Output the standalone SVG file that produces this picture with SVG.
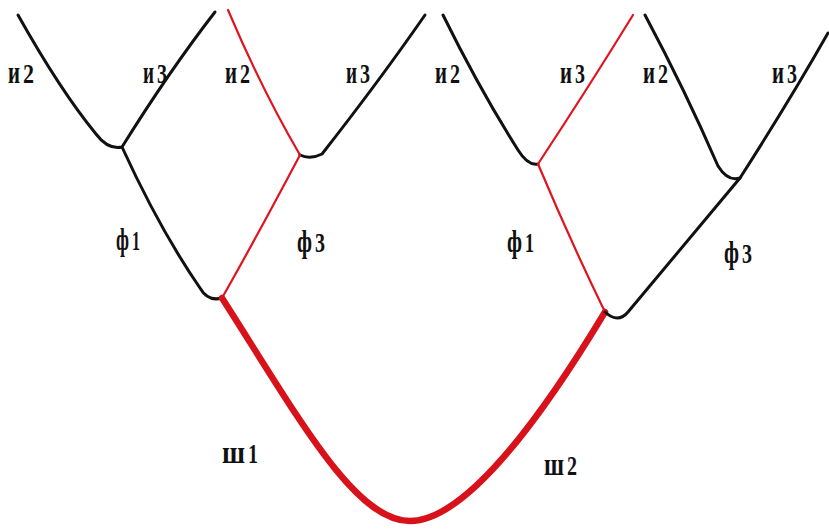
<svg xmlns="http://www.w3.org/2000/svg" width="829" height="529" viewBox="0 0 829 529">
<style>
.k{fill:none;stroke:#111;stroke-width:3;stroke-linecap:round;stroke-linejoin:round}
.r{fill:none;stroke:#e0141e;stroke-width:2.2;stroke-linecap:round;stroke-linejoin:round}
.R{fill:none;stroke:#d8121a;stroke-width:6.5;stroke-linecap:round;stroke-linejoin:round}
text{font-family:"Liberation Serif","Times New Roman",serif;font-weight:bold;fill:#111;font-size:27px}
.l{font-size:31px}
</style>
<rect width="829" height="529" fill="#fff"/>
<g id="connectors">
<path class="k" d="M18,15 Q60,90 96,134 Q108,150 122,147 Q170,70 215,12"/>
<path class="k" d="M122,147 Q160,230 200,288 Q208,302 222,298"/>
<path class="r" d="M228,10 Q262,90 300,155"/>
<path class="k" d="M300,155 Q310,160 322,154 Q380,80 425,15"/>
<path class="r" d="M300,155 Q255,240 222,298"/>
<path class="R" d="M222,298 C300,420 355,521 410,521 C465,521 540,420 605,312"/>
<path class="k" d="M443,15 Q480,90 518,150 Q528,166 538,164"/>
<path class="r" d="M538,164 Q590,85 633,15"/>
<path class="r" d="M538,164 Q570,240 605,312"/>
<path class="k" d="M645,15 Q685,90 718,166 Q728,182 740,178 Q790,100 828,33"/>
<path class="k" d="M740,178 Q680,250 628,312 Q618,324 605,312"/>
</g>
<g id="labels">
<g id="n1"><text class="l" x="8" y="83" textLength="12" lengthAdjust="spacingAndGlyphs">и</text><text x="23" y="83" textLength="11" lengthAdjust="spacingAndGlyphs">2</text></g>
<g id="n2"><text class="l" x="143" y="83" textLength="11" lengthAdjust="spacingAndGlyphs">и</text><text x="157" y="83" textLength="10" lengthAdjust="spacingAndGlyphs">3</text></g>
<g id="n3"><text class="l" x="225" y="83" textLength="12" lengthAdjust="spacingAndGlyphs">и</text><text x="240" y="83" textLength="10" lengthAdjust="spacingAndGlyphs">2</text></g>
<g id="n4"><text class="l" x="346" y="83" textLength="11" lengthAdjust="spacingAndGlyphs">и</text><text x="360" y="83" textLength="10" lengthAdjust="spacingAndGlyphs">3</text></g>
<g id="n5"><text class="l" x="435" y="83" textLength="12" lengthAdjust="spacingAndGlyphs">и</text><text x="450" y="83" textLength="10" lengthAdjust="spacingAndGlyphs">2</text></g>
<g id="n6"><text class="l" x="560" y="83" textLength="12" lengthAdjust="spacingAndGlyphs">и</text><text x="575" y="83" textLength="10" lengthAdjust="spacingAndGlyphs">3</text></g>
<g id="n7"><text class="l" x="643" y="83" textLength="12" lengthAdjust="spacingAndGlyphs">и</text><text x="658" y="83" textLength="10" lengthAdjust="spacingAndGlyphs">2</text></g>
<g id="n8"><text class="l" x="772" y="83" textLength="12" lengthAdjust="spacingAndGlyphs">и</text><text x="787" y="83" textLength="10" lengthAdjust="spacingAndGlyphs">3</text></g>
<g id="f1"><text class="l" x="116" y="250" textLength="13" lengthAdjust="spacingAndGlyphs">ф</text><text x="132" y="250" textLength="8" lengthAdjust="spacingAndGlyphs">1</text></g>
<g id="f2"><text class="l" x="297" y="252" textLength="15" lengthAdjust="spacingAndGlyphs">ф</text><text x="315" y="252" textLength="10" lengthAdjust="spacingAndGlyphs">3</text></g>
<g id="f3"><text class="l" x="507" y="252" textLength="15" lengthAdjust="spacingAndGlyphs">ф</text><text x="525" y="252" textLength="9" lengthAdjust="spacingAndGlyphs">1</text></g>
<g id="f4"><text class="l" x="724" y="263" textLength="15" lengthAdjust="spacingAndGlyphs">ф</text><text x="742" y="263" textLength="10" lengthAdjust="spacingAndGlyphs">3</text></g>
<g id="s1"><text class="l" x="222" y="463" textLength="23" lengthAdjust="spacingAndGlyphs">ш</text><text x="248" y="463" textLength="10" lengthAdjust="spacingAndGlyphs">1</text></g>
<g id="s2"><text class="l" x="544" y="475" textLength="20" lengthAdjust="spacingAndGlyphs">ш</text><text x="567" y="475" textLength="10" lengthAdjust="spacingAndGlyphs">2</text></g>
</g>
</svg>
